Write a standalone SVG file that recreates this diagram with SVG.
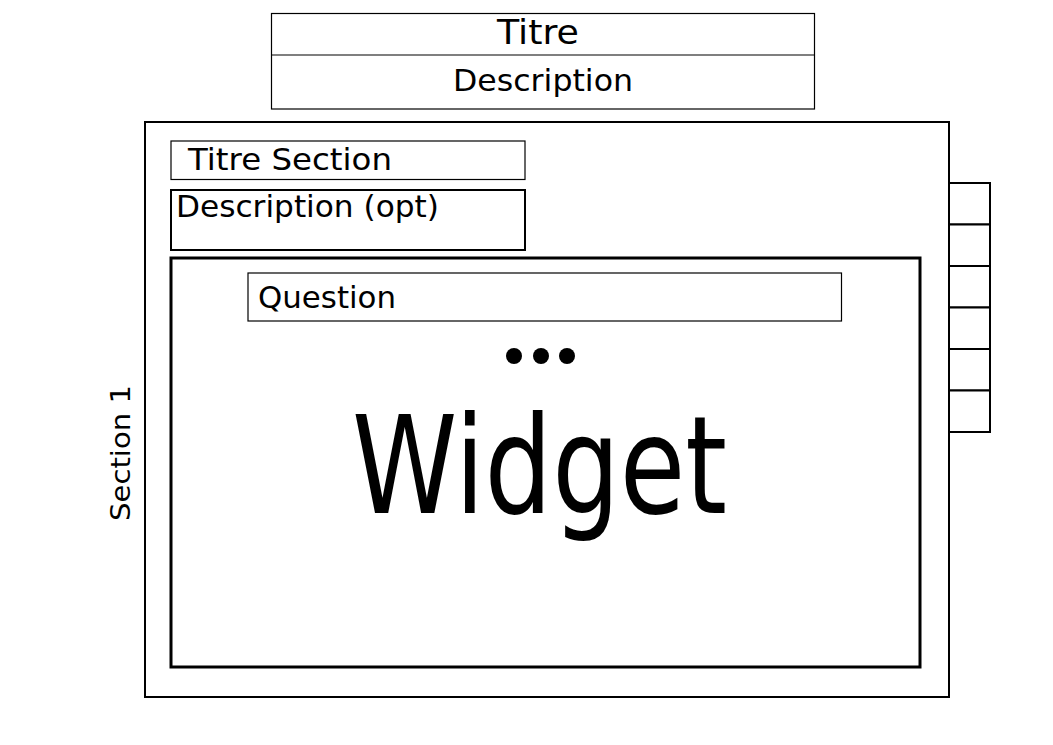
<svg xmlns="http://www.w3.org/2000/svg" width="1053" height="745" viewBox="0 0 1053 745">
  <style>
    text { font-family: "DejaVu Sans", "Liberation Sans", sans-serif; fill: #000; }
    .box { fill: #fff; stroke: #000; }
    .thin { stroke-width: 1.2; }
    .mid { stroke-width: 2; }
    .thick { stroke-width: 3; }
  </style>
  <rect width="1053" height="745" fill="#fff"/>

  <!-- Form header -->
  <g id="header">
    <rect class="box thin" x="271.5" y="13.5" width="543" height="95.5"/>
    <line class="thin" x1="271.5" y1="55" x2="814.5" y2="55" stroke="#000"/>
    <text x="538" y="44" font-size="34" text-anchor="middle" textLength="82" lengthAdjust="spacingAndGlyphs">Titre</text>
    <text x="543" y="91" font-size="30" text-anchor="middle" textLength="180" lengthAdjust="spacingAndGlyphs">Description</text>
  </g>

  <!-- Section container -->
  <g id="section">
    <rect class="box mid" x="145" y="122" width="804" height="575"/>
    <text transform="translate(130,453) rotate(-90)" font-size="27" text-anchor="middle" textLength="136" lengthAdjust="spacingAndGlyphs">Section 1</text>
  </g>

  <g id="section-title">
    <rect class="box thin" x="171" y="141" width="354" height="38.5"/>
    <text x="188" y="170" font-size="30" textLength="204" lengthAdjust="spacingAndGlyphs">Titre Section</text>
  </g>

  <g id="section-description">
    <rect class="box mid" x="171" y="190" width="354" height="60"/>
    <text x="176" y="217" font-size="30" textLength="263" lengthAdjust="spacingAndGlyphs">Description (opt)</text>
  </g>

  <!-- Question block -->
  <g id="widget-area">
    <rect class="box thick" x="171" y="258" width="749" height="409"/>
  </g>

  <g id="question">
    <rect class="box thin" x="248" y="273" width="593.5" height="48"/>
    <text x="258" y="308" font-size="30" textLength="138" lengthAdjust="spacingAndGlyphs">Question</text>
  </g>

  <g id="ellipsis">
    <circle cx="514" cy="356" r="8"/>
    <circle cx="541" cy="356" r="8"/>
    <circle cx="567" cy="356" r="8"/>
  </g>

  <g id="widget">
    <text x="352" y="513" font-size="136" textLength="375" lengthAdjust="spacingAndGlyphs">Widget</text>
  </g>

  <!-- Side tab strip -->
  <g id="tabs">
    <rect class="box mid" x="949" y="183" width="41" height="41.5"/>
    <rect class="box mid" x="949" y="224.5" width="41" height="41.5"/>
    <rect class="box mid" x="949" y="266" width="41" height="41.5"/>
    <rect class="box mid" x="949" y="307.5" width="41" height="41.5"/>
    <rect class="box mid" x="949" y="349" width="41" height="41.5"/>
    <rect class="box mid" x="949" y="390.5" width="41" height="41.5"/>
  </g>

  <g id="connectors"/>
</svg>
